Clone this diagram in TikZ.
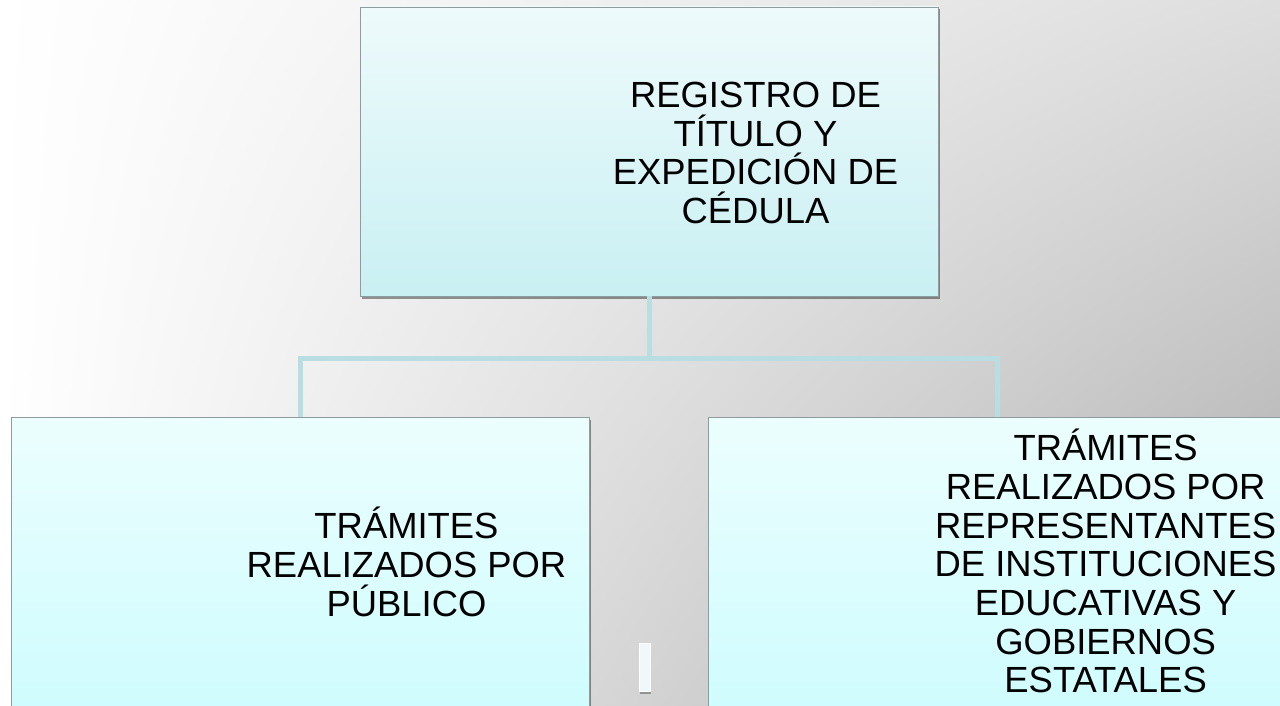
\documentclass[tikz,border=0pt]{standalone}
\usepackage{fontspec}
\setmainfont{Liberation Sans}
\usetikzlibrary{shadows}
\pgfdeclarefunctionalshading{bgshade}{\pgfpoint{0bp}{0bp}}{\pgfpoint{100bp}{100bp}}{}{
 75 exch sub 50 div
 0.216 mul 0.129 add
 exch 25 sub 50 div mul
 1 exch sub dup dup}
\definecolor{topA}{HTML}{EEFAFB}
\definecolor{topB}{HTML}{C9F0F3}
\definecolor{lowA}{HTML}{ECFEFE}
\definecolor{lowB}{HTML}{CFFCFE}
\definecolor{boxline}{HTML}{8E9C9E}
\definecolor{conn}{HTML}{B8DEE2}
\definecolor{barfill}{HTML}{F0F8FC}
\tikzset{
  orgbox/.style={draw=boxline, line width=0.9pt, inner sep=0pt,
    minimum width=578pt, minimum height=289pt,
    drop shadow={shadow xshift=1.5pt, shadow yshift=-2.5pt, fill=black, opacity=0.4}},
  topbox/.style={orgbox, top color=topA, bottom color=topB},
  lowbox/.style={orgbox, top color=lowA, bottom color=lowB},
  label/.style={inner sep=0pt, align=center, text=black,
    font=\fontsize{36.4}{38.7}\selectfont},
  connector/.style={draw=conn, line width=5pt}
}
\begin{document}
\begin{tikzpicture}[x=1pt, y=-1pt]
\useasboundingbox (0,0) rectangle (1280,706);
\clip (0,0) rectangle (1280,706);
\shade[shading=bgshade] (0,0) rectangle (1280,706);

\node[topbox] (top) at (649,151.5) {};
\node[lowbox] (left) at (300,561.5) {};
\node[lowbox] (right) at (997,561.5) {};

\draw[connector] (top.south) -- ++(0,62) coordinate (hub);
\draw[connector] (hub) -| (left.north);
\draw[connector] (hub) -| (right.north);

\node[label] (toptext) at (755.5,152.9) {REGISTRO DE\\TÍTULO Y\\EXPEDICIÓN DE\\CÉDULA};
\node[label] (lefttext) at (406.5,562) {TRÁMITES\\REALIZADOS POR\\PÚBLICO};
\node[label] (righttext) at (1105.6,561.2) {TRÁMITES\\REALIZADOS POR\\REPRESENTANTES\\DE INSTITUCIONES\\EDUCATIVAS Y\\GOBIERNOS\\ESTATALES};

\node[draw=white, line width=1pt, fill=barfill, inner sep=0pt,
  minimum width=11pt, minimum height=48pt,
  drop shadow={shadow xshift=0.5pt, shadow yshift=-2pt, fill=black, opacity=0.3}] (bar) at (645,667.5) {};
\end{tikzpicture}
\end{document}
